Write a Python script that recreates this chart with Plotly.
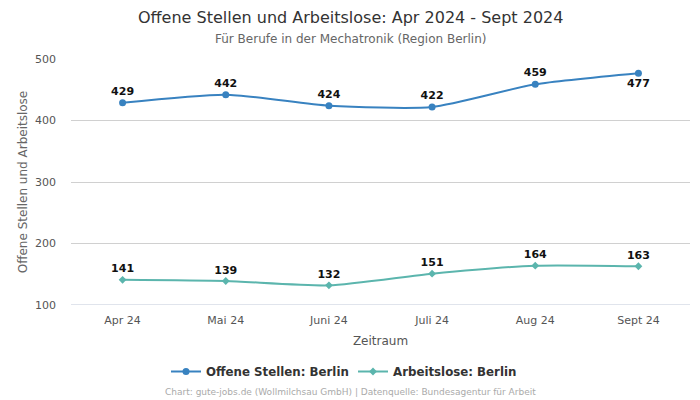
import plotly.graph_objects as go

months = ["Apr 24", "Mai 24", "Juni 24", "Juli 24", "Aug 24", "Sept 24"]
offene = [429, 442, 424, 422, 459, 477]
arbeitslose = [141, 139, 132, 151, 164, 163]
off_pos = ["top center"] * 5 + ["bottom center"]

# page body adds an 8px offset; layout is designed against it
T, B, L, R = 51, 103, 63, 18
PH = 400 - T - B
PW = 700 - L - R
CX = (342 - L) / PW  # horizontal centre of the page texts

fig = go.Figure()
fig.add_trace(go.Scatter(
    x=months, y=offene, name="Offene Stellen: Berlin",
    mode="lines+markers+text", line=dict(color="#3882c0", width=2, shape="spline", smoothing=0.6),
    marker=dict(symbol="circle", size=7, color="#3882c0"),
    text=[str(v) for v in offene], textposition=off_pos,
    textfont=dict(family="DejaVu Sans", size=11, color="#111111", weight="bold"),
))
fig.add_trace(go.Scatter(
    x=months, y=arbeitslose, name="Arbeitslose: Berlin",
    mode="lines+markers+text", line=dict(color="#5bb5ad", width=2, shape="spline", smoothing=0.6),
    marker=dict(symbol="diamond", size=6, color="#5bb5ad"),
    text=[str(v) for v in arbeitslose], textposition="top center",
    textfont=dict(family="DejaVu Sans", size=11, color="#111111", weight="bold"),
))

fig.update_layout(
    width=700, height=400,
    margin=dict(l=L, r=R, t=T, b=B, autoexpand=False),
    paper_bgcolor="white", plot_bgcolor="white",
    font=dict(family="DejaVu Sans", color="#555555"),
    xaxis=dict(
        range=[-0.5, 5.5], showgrid=False, showline=False, zeroline=False, automargin=False,
        tickfont=dict(size=11, color="#555555"), ticks="", ticklabelstandoff=7,
        title=dict(text="Zeitraum", font=dict(size=12, color="#555555"), standoff=10),
    ),
    yaxis=dict(
        range=[100, 500], tickvals=[100, 200, 300, 400, 500], automargin=False,
        showgrid=True, gridcolor="#d0d0d0", zeroline=False,
        tickfont=dict(size=11, color="#555555"), ticks="", ticklabelstandoff=14,
        title=dict(text="Offene Stellen und Arbeitslose", font=dict(size=12, color="#666666"), standoff=4),
    ),
    legend=dict(
        orientation="h", x=CX + 3 / PW, xanchor="center", y=-(349 - (400 - B)) / PH, yanchor="top",
        font=dict(size=11.8, color="#333333", weight="bold"),
        entrywidth=142, entrywidthmode="pixels",
    ),
    showlegend=True,
)
fig.add_shape(type="line", xref="paper", yref="y", x0=0, x1=1, y0=100, y1=100,
              line=dict(color="#c0c8d8", width=1))
fig.add_annotation(
    text="Offene Stellen und Arbeitslose: Apr 2024 - Sept 2024",
    xref="paper", yref="paper", x=CX, xanchor="center", y=1 + (T - 9) / PH, yanchor="middle",
    showarrow=False, font=dict(size=16, color="#333333"),
)
fig.add_annotation(
    text="Für Berufe in der Mechatronik (Region Berlin)",
    xref="paper", yref="paper", x=CX, xanchor="center", y=1 + (T - 31) / PH, yanchor="middle",
    showarrow=False, font=dict(size=12, color="#666666"),
)
fig.add_annotation(
    text="Chart: gute-jobs.de (Wollmilchsau GmbH) | Datenquelle: Bundesagentur für Arbeit",
    xref="paper", yref="paper", x=CX, xanchor="center", y=-(384 - (400 - B)) / PH, yanchor="middle",
    showarrow=False, font=dict(size=9, color="#aaaaaa"),
)
fig.write_html("out.html")
